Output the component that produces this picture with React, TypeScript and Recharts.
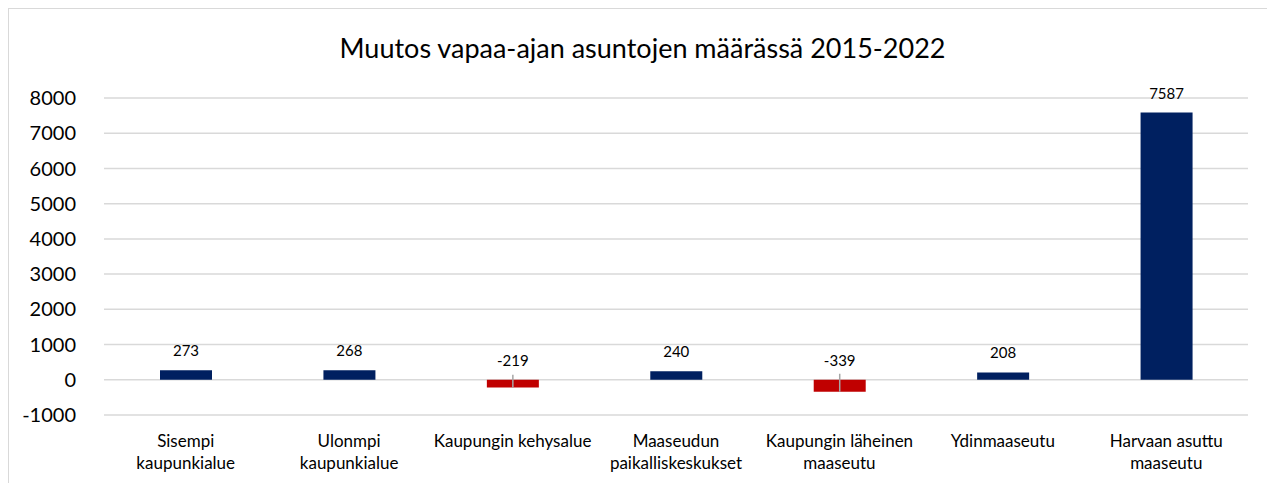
import { BarChart, Bar, XAxis, YAxis, CartesianGrid, Cell, LabelList, ErrorBar } from 'recharts';

const categories = [
  'Sisempi\nkaupunkialue',
  'Ulonmpi\nkaupunkialue',
  'Kaupungin kehysalue',
  'Maaseudun\npaikalliskeskukset',
  'Kaupungin läheinen\nmaaseutu',
  'Ydinmaaseutu',
  'Harvaan asuttu\nmaaseutu',
];
const changes = [273, 268, -219, 240, -339, 208, 7587];
// the small grey whiskers on the negative bars
const whiskers: ([number, number] | null)[] = [null, null, [10, 360], null, [0, 510], null, null];
const yTicks = [-1000, 0, 1000, 2000, 3000, 4000, 5000, 6000, 7000, 8000];

const data = categories.map((name, i) => ({ name, value: changes[i], err: whiskers[i] }));

const FONT = 'Lato, "Open Sans", sans-serif';
const NAVY = '#002060';
const RED = '#C00000';

function CategoryTick(props: any) {
  const { x, y, payload } = props;
  const lines = String(payload.value).split('\n');
  return (
    <text x={x} y={y} textAnchor="middle" fill="#000" fontSize={17} fontFamily={FONT}>
      {lines.map((l, i) => (
        <tspan key={i} x={x} dy={i === 0 ? 26 : 22}>{l}</tspan>
      ))}
    </text>
  );
}

function ValueLabel(props: any) {
  const { x, y, width, height, value } = props;
  const top = Math.min(y, y + height);
  return (
    <text x={x + width / 2} y={top - 14} textAnchor="middle" fontSize={15} fontFamily={FONT} fill="#000">
      {value}
    </text>
  );
}

export default function App() {
  return (
    <div style={{ position: 'relative', width: 1267, height: 475, borderLeft: '1px solid #d9d9d9', borderTop: '1px solid #d9d9d9', boxSizing: 'border-box', fontFamily: FONT, overflow: 'hidden' }}>
      <div style={{ position: 'absolute', top: 22, left: 0, width: 1267, textAlign: 'center', fontSize: 27, color: '#000' }}>
        Muutos vapaa-ajan asuntojen määrässä 2015-2022
      </div>
      <BarChart width={1266} height={474} data={data} margin={{ top: 89, right: 27, bottom: 8, left: 0 }}>
        <CartesianGrid vertical={false} stroke="#d9d9d9" strokeWidth={1.5} />
        <XAxis dataKey="name" axisLine={false} tickLine={false} interval={0} height={60} tick={<CategoryTick />} tickMargin={0} />
        <YAxis
          domain={[-1000, 8000]}
          ticks={yTicks}
          interval={0}
          axisLine={false}
          tickLine={false}
          width={95}
          tickMargin={22}
          tick={{ fill: '#000', fontSize: 20, fontFamily: FONT }}
        />
        <Bar dataKey="value" barSize={52} isAnimationActive={false}>
          {data.map((d, i) => (
            <Cell key={i} fill={d.value < 0 ? RED : NAVY} />
          ))}
          <ErrorBar dataKey="err" width={0} stroke="#a6a6a6" strokeWidth={1.5} direction="y" />
          <LabelList dataKey="value" content={<ValueLabel />} />
        </Bar>
      </BarChart>
    </div>
  );
}
